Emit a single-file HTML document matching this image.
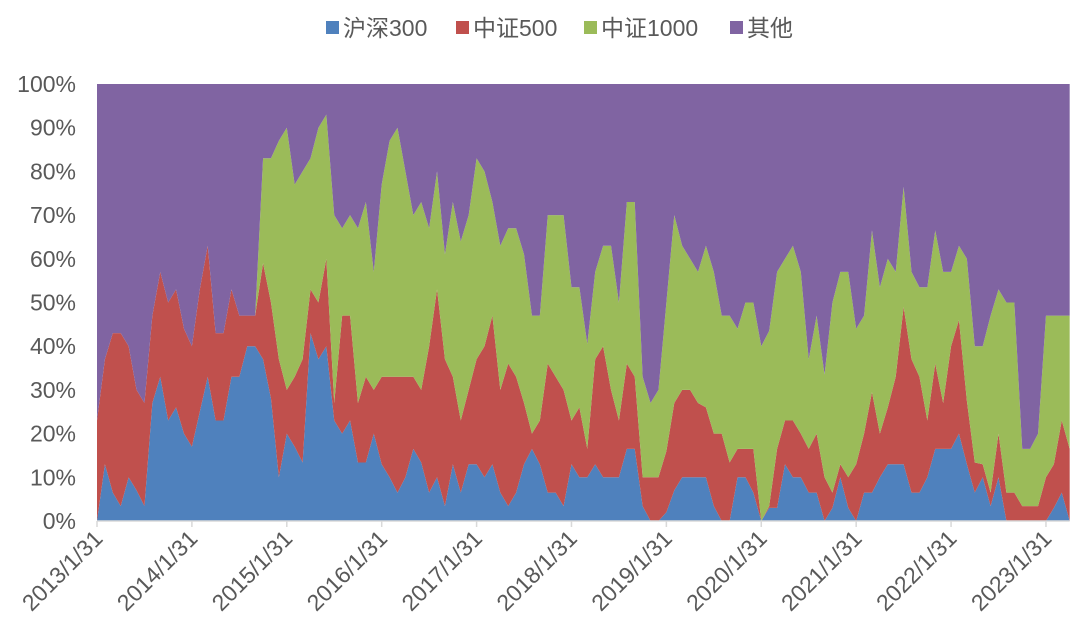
<!DOCTYPE html>
<html><head><meta charset="utf-8"><style>
body{margin:0;background:#fff;}
svg{display:block;font-family:"Liberation Sans","Noto Sans CJK SC",sans-serif;}
</style></head><body>
<svg id="chart" width="1077" height="642" viewBox="0 0 1077 642">
<g id="legend"></g>
<g id="yaxis"></g>
<g id="plot"></g>
<g id="xaxis"></g>
</svg>
<script>
const seriesNames = ["沪深300","中证500","中证1000","其他"];
const seriesColors = ["#4F81BD","#C0504D","#9BBB59","#8064A2"];
const hs300 = [0,13,6.5,3.4,10,7,3.4,27,33,23,26,20,17,25,33,23,23,33,33,40,40,37,28,10,20,17,13.4,43,37,40,23,20,23,13.4,13.4,20,13,10,6.5,10,16.5,13.4,6.5,10,3.4,13,6.5,13,13,10,13,6.5,3.4,6.5,13,16.5,13,6.5,6.5,3.4,13,10,10,13,10,10,10,16.5,16.5,3.4,0,0,2,7,10,10,10,10,3.4,0,0,10,10,6.5,0,3,3,13,10,10,6.5,6.5,0,3,10,3,0,6.5,6.5,10,13,13,13,6.5,6.5,10,16.5,16.5,16.5,20,13,6.5,10,3.4,10,0,0,0,0,0,0,3,6.5,0];
const zz500 = [23,24,36.5,39.6,30,23,23.6,20,24,27,27,24,23,28,30,20,20,20,14,7,7,22,22,27,10,16,23.6,10,13,20,4,27,24,13.6,19.6,10,20,23,26.5,23,16.5,16.6,33.5,43,33.6,20,16.5,17,24,30,34,23.5,32.6,26.5,14,3.5,10,29.5,26.5,26.6,10,16,6.5,24,30,20,13,19.5,16.5,6.6,10,10,14,20,20,20,17,16,16.6,20,13.4,6.5,6.5,10,0,0.4,13.5,10,13,10,10,13.5,10,3.5,3,7,13,13.5,23,10,13,20,36,30.5,26.5,13,19.5,10.5,23.5,26,14.5,6.9,3,3.1,10,6.5,6.5,3.4,3.4,3.4,10,10,16.5,16.5];
const zz1000 = [0,0,0,0,0,0,0,0,0,0,0,0,0,0,0,0,0,0,0,0,0,24,33,50,60,44,43,30,40,33,43,20,23,40,40,27,44,54,57,47,37,43,27,27,24,40,41,40,46,40,26,33,31,34,34,27,24,34,37,40,30.5,27.5,24,20,23,33,27,37,40,23,17,20,34,43,33,30,30,37,37,27,33.6,27.5,33.5,33.5,40,40.1,40.5,37,40,37,20.5,27,23.5,43.5,44,47,31,27,37,33.5,34,24,27.5,20,20.5,30.5,30.5,30,17,17,32.5,26.6,27,40.5,33,43.5,43.5,13.1,13.1,16.6,37,34,24,30.5];
const other = [77,63,57,57,60,70,73,53,43,50,47,56,60,47,37,57,57,47,53,53,53,17,17,13,10,23,20,17,10,7,30,33,30,33,27,43,23,13,10,20,30,27,33,20,39,27,36,30,17,20,27,37,33,33,39,53,53,30,30,30,46.5,46.5,59.5,43,37,37,50,27,27,67,73,70,50,30,37,40,43,37,43,53,53,56,50,50,60,56.5,43,40,37,43,63,53,66.5,50,43,43,56,53,33.5,46.5,40,43,23.5,43,46.5,46.5,33.5,43,43,37,40,60,60,53,47,50,50,83.5,83.5,80,53,53,53,53];
const yTicks = [0,10,20,30,40,50,60,70,80,90,100];
const xTickLabels = ["2013/1/31","2014/1/31","2015/1/31","2016/1/31","2017/1/31","2018/1/31","2019/1/31","2020/1/31","2021/1/31","2022/1/31","2023/1/31"];

const NS="http://www.w3.org/2000/svg";
const X0=97, STEP=7.908, Y0=521, Y100=84;
const xs = i => X0 + i*STEP;
const ys = v => Y0 - (Y0-Y100)*v/100;
function mk(tag, attrs, parent){const e=document.createElementNS(NS,tag);for(const k in attrs)e.setAttribute(k,attrs[k]);parent.appendChild(e);return e;}

const series=[hs300,zz500,zz1000,other];
const n=hs300.length;
const totals=[];for(let i=0;i<n;i++){totals.push(hs300[i]+zz500[i]+zz1000[i]+other[i]);}
const plot=document.getElementById('plot');
let lower=new Array(n).fill(0);
series.forEach((s,k)=>{
  const upper=lower.map((l,i)=>l+s[i]/totals[i]*100);
  let d="";
  for(let i=0;i<n;i++)d+=(i?"L":"M")+xs(i).toFixed(2)+","+ys(upper[i]).toFixed(2);
  for(let i=n-1;i>=0;i--)d+="L"+xs(i).toFixed(2)+","+ys(lower[i]).toFixed(2);
  d+="Z";
  const p=mk('path',{d:d,fill:seriesColors[k],stroke:"none"},plot);
  
  
  lower=upper;
});

const ya=document.getElementById('yaxis');
yTicks.forEach(t=>{
  const tx=mk('text',{x:76,y:ys(t)+8,'text-anchor':'end','font-size':23,fill:'#595959'},ya);
  tx.textContent=t+"%";
  
  
});

const xa=document.getElementById('xaxis');
const axl=mk('line',{x1:X0,x2:xs(n-1),y1:Y0,y2:Y0,stroke:'#d9d9d9','stroke-width':1.5},xa);


xTickLabels.forEach((lab,j)=>{
  const x=xs(j*12);
  const tk=mk('line',{x1:x,x2:x,y1:Y0,y2:Y0+6,stroke:'#d9d9d9','stroke-width':1.5},xa);
  
  
  const tx=mk('text',{x:0,y:0,'text-anchor':'end','font-size':23,fill:'#595959',transform:`translate(${x+7},${Y0+19}) rotate(-45)`},xa);
  tx.textContent=lab;
  
  
});

const lg=document.getElementById('legend');
const lx=[326,456,584,730];
seriesNames.forEach((nm,k)=>{
  const g=mk('g',{},lg);
  
  
  mk('rect',{x:lx[k],y:21,width:13,height:13,fill:seriesColors[k]},g);
  const t=mk('text',{x:lx[k]+17,y:36,'font-size':23,fill:'#595959'},g);
  t.textContent=nm;
});
</script>
</body></html>
